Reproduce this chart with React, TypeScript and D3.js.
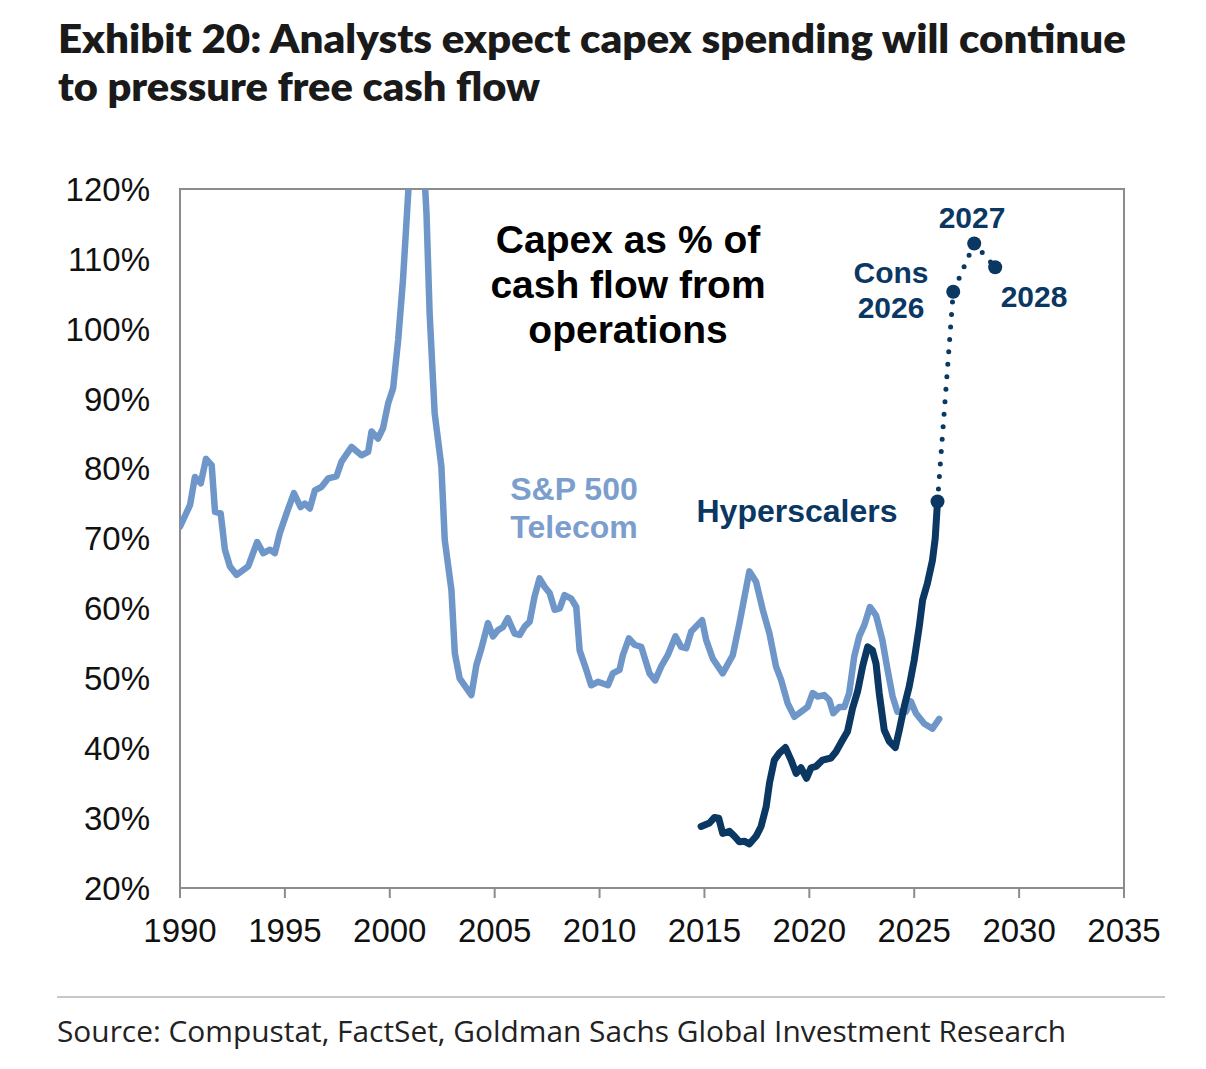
import * as d3 from "d3";

// S&P 500 Telecom: capex as % of cash flow from operations (quarterly)
const telecomYears = [
  1990.0, 1990.48, 1990.71, 1990.99, 1991.24, 1991.51, 1991.67, 1991.94, 1992.14, 1992.38,
  1992.7, 1993.25, 1993.68, 1993.97, 1994.29, 1994.52, 1994.76, 1995.08, 1995.43, 1995.75,
  1995.95, 1996.19, 1996.43, 1996.75, 1997.06, 1997.46, 1997.7, 1998.18, 1998.65, 1998.97,
  1999.13, 1999.44, 1999.68, 1999.92, 2000.16, 2000.4, 2000.63, 2000.82, 2001.05, 2001.3,
  2001.55, 2001.75, 2001.9, 2002.14, 2002.46, 2002.62, 2002.94, 2003.1, 2003.33, 2003.89,
  2004.13, 2004.37, 2004.68, 2004.92, 2005.16, 2005.39, 2005.63, 2005.95, 2006.19, 2006.43,
  2006.67, 2006.9, 2007.14, 2007.38, 2007.62, 2007.86, 2008.1, 2008.33, 2008.65, 2008.89,
  2009.05, 2009.37, 2009.6, 2009.92, 2010.4, 2010.63, 2010.95, 2011.11, 2011.4, 2011.67,
  2011.99, 2012.38, 2012.65, 2012.94, 2013.25, 2013.62, 2013.89, 2014.13, 2014.37, 2014.89,
  2015.08, 2015.4, 2015.87, 2016.35, 2016.67, 2017.14, 2017.46, 2017.78, 2018.1, 2018.41,
  2018.65, 2018.97, 2019.29, 2019.6, 2019.92, 2020.16, 2020.4, 2020.71, 2020.95, 2021.14,
  2021.43, 2021.67, 2021.9, 2022.14, 2022.38, 2022.62, 2022.89, 2023.18, 2023.48, 2023.73,
  2023.97, 2024.2, 2024.6, 2024.84, 2025.08, 2025.48, 2025.87, 2026.19,
];
const telecomValues = [
  71.7, 74.8, 78.8, 77.9, 81.4, 80.5, 73.8, 73.6, 68.4, 66.0,
  64.8, 66.0, 69.5, 67.9, 68.4, 67.9, 70.8, 73.6, 76.5, 74.5,
  75.0, 74.3, 76.9, 77.4, 78.6, 78.9, 81.0, 83.1, 81.9, 82.4,
  85.3, 84.3, 85.8, 89.3, 91.5, 98.4, 107.0, 116.5, 128.0, 138.0,
  128.0, 116.5, 102.2, 87.9, 80.3, 69.8, 62.6, 53.6, 50.0, 47.6,
  51.9, 54.3, 57.9, 56.0, 56.9, 57.3, 58.6, 56.4, 56.2, 57.4,
  58.1, 61.7, 64.3, 63.1, 62.2, 59.8, 60.0, 61.9, 61.4, 60.2,
  54.0, 51.2, 49.0, 49.5, 49.0, 50.7, 51.2, 53.3, 55.7, 54.8,
  54.5, 50.7, 49.7, 51.7, 53.3, 56.0, 54.5, 54.3, 56.7, 58.3,
  55.5, 52.8, 50.7, 53.3, 57.9, 65.3, 63.8, 59.8, 56.4, 51.7,
  49.8, 46.4, 44.5, 45.2, 45.9, 47.9, 47.4, 47.6, 46.9, 45.0,
  45.9, 45.9, 47.9, 53.1, 56.0, 57.6, 60.2, 59.0, 55.5, 51.2,
  47.4, 45.2, 45.2, 46.7, 45.0, 43.5, 42.8, 44.2,
];

// Hyperscalers: historical
const hyperYears = [
  2014.84, 2015.24, 2015.48, 2015.68, 2015.87, 2016.19, 2016.43, 2016.67, 2016.9, 2017.14,
  2017.46, 2017.7, 2017.94, 2018.1, 2018.33, 2018.57, 2018.86, 2019.13, 2019.37, 2019.6,
  2019.87, 2020.08, 2020.32, 2020.63, 2021.03, 2021.27, 2021.59, 2021.82, 2022.06, 2022.3,
  2022.54, 2022.78, 2023.01, 2023.18, 2023.33, 2023.57, 2023.81, 2024.1, 2024.29, 2024.52,
  2024.76, 2025.0, 2025.24, 2025.4, 2025.63, 2025.87, 2026.0, 2026.11,
];
const hyperValues = [
  28.8, 29.3, 30.1, 30.0, 27.8, 28.1, 27.4, 26.6, 26.7, 26.3,
  27.4, 28.8, 31.6, 35.0, 38.3, 39.3, 40.1, 38.3, 36.4, 37.2,
  35.7, 37.2, 37.4, 38.3, 38.6, 39.5, 41.2, 42.4, 45.7, 48.1,
  51.7, 54.5, 54.0, 52.1, 47.9, 42.6, 41.0, 40.1, 42.6, 45.9,
  48.8, 52.6, 57.4, 61.2, 63.6, 66.9, 70.0, 75.3,
];

// Hyperscalers: consensus path (last actual, 2026, 2027, 2028)
const consYears = [2026.11, 2026.86, 2027.86, 2028.86];
const consValues = [75.3, 105.3, 112.2, 108.8];

const yTicks = [20, 30, 40, 50, 60, 70, 80, 90, 100, 110, 120];
const xTicks = [1990, 1995, 2000, 2005, 2010, 2015, 2020, 2025, 2030, 2035];

const LIGHT = "#6e96c8";
const LIGHT_TEXT = "#7b9ecd";
const NAVY = "#0b3763";
const AXIS = "#8c8c8c";

const W = 1206;
const H = 1069;
const M = { left: 180, right: 1124, top: 189, bottom: 888 };

export default function App() {
  const x = d3.scaleLinear().domain([1990, 2035]).range([M.left, M.right]);
  const y = d3.scaleLinear().domain([20, 120]).range([M.bottom, M.top]);

  const line = d3
    .line<[number, number]>()
    .x((d) => x(d[0]))
    .y((d) => y(d[1]));

  const telecom = telecomYears.map((t, i) => [t, telecomValues[i]] as [number, number]);
  const hyper = hyperYears.map((t, i) => [t, hyperValues[i]] as [number, number]);
  const cons = consYears.map((t, i) => [t, consValues[i]] as [number, number]);

  const axisFont = "'Liberation Sans', Arial, sans-serif";
  const titleFont = "Lato, 'Open Sans', sans-serif";
  const footFont = "'Open Sans', 'Noto Sans', sans-serif";

  return (
    <svg
      width={W}
      height={H}
      viewBox={`0 0 ${W} ${H}`}
      style={{ position: "absolute", left: 0, top: 0, background: "#fff" }}
    >
      <defs>
        <clipPath id="plot-clip">
          <rect x={M.left} y={M.top} width={M.right - M.left} height={M.bottom - M.top} />
        </clipPath>
      </defs>

      {/* Title */}
      <g fontFamily={titleFont} fontWeight={800} fontSize={40} fill="#1a1a1a">
        <text x={58} y={53} textLength={1068} lengthAdjust="spacingAndGlyphs">
          Exhibit 20: Analysts expect capex spending will continue
        </text>
        <text x={58} y={101} textLength={482} lengthAdjust="spacingAndGlyphs">
          to pressure free cash flow
        </text>
      </g>

      {/* Frame */}
      <rect
        x={M.left}
        y={M.top}
        width={M.right - M.left}
        height={M.bottom - M.top}
        fill="none"
        stroke={AXIS}
        strokeWidth={2}
      />

      {/* Y axis labels */}
      <g fontFamily={axisFont} fontSize={33} fill="#111" textAnchor="end">
        {yTicks.map((t) => (
          <text key={t} x={150} y={y(t)} dy="0.36em">
            {t}%
          </text>
        ))}
      </g>

      {/* X axis ticks and labels */}
      <g fontFamily={axisFont} fontSize={33} fill="#111" textAnchor="middle">
        {xTicks.map((t) => (
          <g key={t}>
            <line x1={x(t)} x2={x(t)} y1={M.bottom} y2={M.bottom + 10} stroke={AXIS} strokeWidth={2} />
            <text x={x(t)} y={942}>
              {t}
            </text>
          </g>
        ))}
      </g>

      {/* Series */}
      <g clipPath="url(#plot-clip)" fill="none" strokeLinejoin="round" strokeLinecap="round">
        <path d={line(telecom) ?? ""} stroke={LIGHT} strokeWidth={6.5} />
        <path d={line(hyper) ?? ""} stroke={NAVY} strokeWidth={7} />
        <path d={line(cons) ?? ""} stroke={NAVY} strokeWidth={5} strokeDasharray="0 12.5" />
      </g>
      {cons.map((d, i) => (
        <circle key={i} cx={x(d[0])} cy={y(d[1])} r={7} fill={NAVY} />
      ))}

      {/* Annotations */}
      <g fontFamily={axisFont} fontWeight={700} fontSize={39} fill="#000" textAnchor="middle">
        <text x={628} y={253}>Capex as % of</text>
        <text x={628} y={298}>cash flow from</text>
        <text x={628} y={343}>operations</text>
      </g>
      <g fontFamily={axisFont} fontWeight={700} fontSize={32} fill={LIGHT_TEXT} textAnchor="middle">
        <text x={574} y={500}>S&amp;P 500</text>
        <text x={574} y={538}>Telecom</text>
      </g>
      <text
        x={797}
        y={522}
        fontFamily={axisFont}
        fontWeight={700}
        fontSize={32}
        fill={NAVY}
        textAnchor="middle"
      >
        Hyperscalers
      </text>
      <g fontFamily={axisFont} fontWeight={700} fontSize={30} fill={NAVY} textAnchor="middle">
        <text x={891} y={283}>Cons</text>
        <text x={891} y={318}>2026</text>
        <text x={972} y={228}>2027</text>
        <text x={1034} y={307}>2028</text>
      </g>

      {/* Footer */}
      <line x1={57} x2={1165} y1={997} y2={997} stroke="#c8c8c8" strokeWidth={2} />
      <text
        x={57}
        y={1042}
        fontFamily={footFont}
        fontSize={30}
        fill="#222"
        textLength={1009}
        lengthAdjust="spacingAndGlyphs"
      >
        Source: Compustat, FactSet, Goldman Sachs Global Investment Research
      </text>
    </svg>
  );
}
